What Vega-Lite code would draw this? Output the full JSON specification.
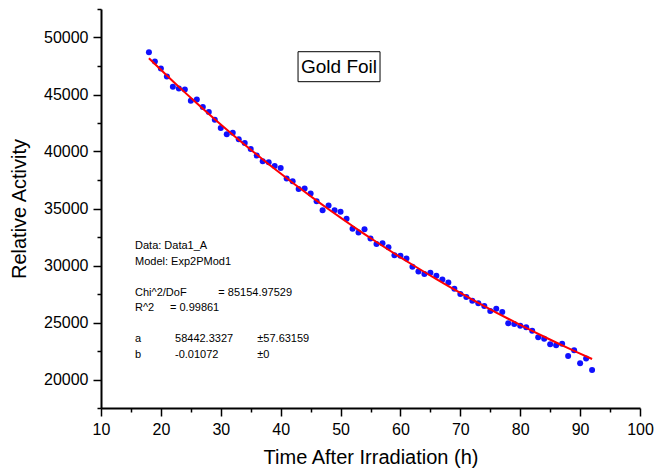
{
  "$schema": "https://vega.github.io/schema/vega-lite/v6.json",
  "width": 539,
  "height": 399,
  "padding": {"left": 101, "top": 9, "right": 28, "bottom": 63},
  "autosize": {"type": "none"},
  "background": "white",
  "config": {"view": {"stroke": null}, "font": "Liberation Sans"},
  "datasets": {
    "points": [
      {"t": 18, "a": 48713}, {"t": 19, "a": 47898}, {"t": 20, "a": 47285}, {"t": 21, "a": 46585},
      {"t": 22, "a": 45683}, {"t": 23, "a": 45534}, {"t": 24, "a": 45446}, {"t": 25, "a": 44457},
      {"t": 26, "a": 44571}, {"t": 27, "a": 43897}, {"t": 28, "a": 43459}, {"t": 29, "a": 42793},
      {"t": 30, "a": 42058}, {"t": 31, "a": 41506}, {"t": 32, "a": 41652}, {"t": 33, "a": 41068},
      {"t": 34, "a": 40744}, {"t": 35, "a": 40219}, {"t": 36, "a": 39640}, {"t": 37, "a": 39140},
      {"t": 38, "a": 39054}, {"t": 39, "a": 38730}, {"t": 40, "a": 38555}, {"t": 41, "a": 37626},
      {"t": 42, "a": 37390}, {"t": 43, "a": 36716}, {"t": 44, "a": 36751}, {"t": 45, "a": 36313},
      {"t": 46, "a": 35639}, {"t": 47, "a": 34850}, {"t": 48, "a": 35262}, {"t": 49, "a": 34850},
      {"t": 50, "a": 34720}, {"t": 51, "a": 34090}, {"t": 52, "a": 33214}, {"t": 53, "a": 32900},
      {"t": 54, "a": 33187}, {"t": 55, "a": 32370}, {"t": 56, "a": 31890}, {"t": 57, "a": 31945},
      {"t": 58, "a": 31610}, {"t": 59, "a": 30910}, {"t": 60, "a": 30851}, {"t": 61, "a": 30618},
      {"t": 62, "a": 29888}, {"t": 63, "a": 29480}, {"t": 64, "a": 29246}, {"t": 65, "a": 29363},
      {"t": 66, "a": 29100}, {"t": 67, "a": 28781}, {"t": 68, "a": 28518}, {"t": 69, "a": 27962},
      {"t": 70, "a": 27494}, {"t": 71, "a": 27232}, {"t": 72, "a": 26912}, {"t": 73, "a": 26678},
      {"t": 74, "a": 26444}, {"t": 75, "a": 26006}, {"t": 76, "a": 26210}, {"t": 77, "a": 25919},
      {"t": 78, "a": 24927}, {"t": 79, "a": 24868}, {"t": 80, "a": 24722}, {"t": 81, "a": 24576},
      {"t": 82, "a": 24284}, {"t": 83, "a": 23700}, {"t": 84, "a": 23583}, {"t": 85, "a": 23087},
      {"t": 86, "a": 23000}, {"t": 87, "a": 23146}, {"t": 88, "a": 22065}, {"t": 89, "a": 22561},
      {"t": 90, "a": 21426}, {"t": 91, "a": 21834}, {"t": 92, "a": 20840}
    ],
    "fit": [
      {"t": 18, "a": 48187}, {"t": 20, "a": 47165}, {"t": 22, "a": 46165}, {"t": 24, "a": 45185},
      {"t": 26, "a": 44227}, {"t": 28, "a": 43289}, {"t": 30, "a": 42370}, {"t": 32, "a": 41472},
      {"t": 34, "a": 40592}, {"t": 36, "a": 39731}, {"t": 38, "a": 38888}, {"t": 40, "a": 38063},
      {"t": 42, "a": 37256}, {"t": 44, "a": 36466}, {"t": 46, "a": 35692}, {"t": 48, "a": 34935},
      {"t": 50, "a": 34194}, {"t": 52, "a": 33469}, {"t": 54, "a": 32759}, {"t": 56, "a": 32064},
      {"t": 58, "a": 31384}, {"t": 60, "a": 30718}, {"t": 62, "a": 30067}, {"t": 64, "a": 29429},
      {"t": 66, "a": 28805}, {"t": 68, "a": 28194}, {"t": 70, "a": 27596}, {"t": 72, "a": 27010},
      {"t": 74, "a": 26437}, {"t": 76, "a": 25876}, {"t": 78, "a": 25328}, {"t": 80, "a": 24790},
      {"t": 82, "a": 24264}, {"t": 84, "a": 23750}, {"t": 86, "a": 23246}, {"t": 88, "a": 22753},
      {"t": 90, "a": 22270}, {"t": 92, "a": 21798}
    ]
  },
  "layer": [
    {
      "data": {"name": "points"},
      "mark": {"type": "point", "shape": "circle", "filled": true, "size": 36, "color": "#1010ff", "opacity": 1},
      "encoding": {
        "x": {
          "field": "t", "type": "quantitative",
          "scale": {"domain": [10, 100], "nice": false, "zero": false},
          "axis": {
            "orient": "bottom", "values": [10, 20, 30, 40, 50, 60, 70, 80, 90, 100], "format": "d",
            "grid": false, "domainColor": "black", "domainWidth": 2, "tickColor": "black", "tickWidth": 1.5, "tickSize": 8,
            "labelFontSize": 16, "labelColor": "black", "labelFont": "Liberation Sans", "labelPadding": 5,
            "labelFlush": false, "labelOverlap": false,
            "title": "Time After Irradiation (h)", "titleFontSize": 20, "titleFontWeight": "normal", "titleColor": "black",
            "titleFont": "Liberation Sans", "titlePadding": 10
          }
        },
        "y": {
          "field": "a", "type": "quantitative",
          "scale": {"domain": [17500, 52500], "nice": false, "zero": false},
          "axis": {
            "orient": "left", "values": [20000, 25000, 30000, 35000, 40000, 45000, 50000], "format": "d",
            "grid": false, "domainColor": "black", "domainWidth": 2, "tickColor": "black", "tickWidth": 1.5, "tickSize": 8,
            "labelFontSize": 16, "labelColor": "black", "labelFont": "Liberation Sans", "labelPadding": 5,
            "labelFlush": false, "labelOverlap": false,
            "title": "Relative Activity", "titleFontSize": 20, "titleFontWeight": "normal", "titleColor": "black",
            "titleFont": "Liberation Sans", "titlePadding": 14
          }
        }
      }
    },
    {
      "data": {"name": "fit"},
      "mark": {"type": "line", "color": "#ff0000", "strokeWidth": 2},
      "encoding": {
        "x": {
          "field": "t", "type": "quantitative",
          "axis": {
            "orient": "bottom", "values": [15, 25, 35, 45, 55, 65, 75, 85, 95], "labels": false, "domain": false,
            "grid": false, "tickColor": "black", "tickWidth": 1.5, "tickSize": 4, "title": null
          }
        },
        "y": {
          "field": "a", "type": "quantitative",
          "axis": {
            "orient": "left", "values": [17500, 22500, 27500, 32500, 37500, 42500, 47500, 52500], "labels": false, "domain": false,
            "grid": false, "tickColor": "black", "tickWidth": 1.5, "tickSize": 4, "title": null
          }
        }
      }
    },
    {
      "data": {"values": [{}]},
      "mark": {"type": "rect", "fill": "white", "fillOpacity": 0, "stroke": "black", "strokeWidth": 1},
      "encoding": {
        "x": {"datum": 42.9, "type": "quantitative", "axis": null},
        "x2": {"datum": 56.59},
        "y": {"datum": 48754, "type": "quantitative", "axis": null},
        "y2": {"datum": 46123}
      }
    },
    {
      "data": {"values": [{}]},
      "mark": {"type": "text", "text": "Gold Foil", "align": "center", "baseline": "alphabetic", "fontSize": 19, "font": "Liberation Sans", "color": "black"},
      "encoding": {
        "x": {"datum": 49.74, "type": "quantitative", "axis": null},
        "y": {"datum": 46860, "type": "quantitative", "axis": null}
      }
    },
    {
      "data": {"values": [{}]},
      "mark": {"type": "text", "text": ["Data: Data1_A", "Model: Exp2PMod1"], "align": "left", "baseline": "alphabetic", "fontSize": 11, "lineHeight": 15.5, "font": "Liberation Sans", "color": "black"},
      "encoding": {
        "x": {"datum": 15.68, "type": "quantitative", "axis": null},
        "y": {"datum": 31447, "type": "quantitative", "axis": null}
      }
    },
    {
      "data": {"values": [{}]},
      "mark": {"type": "text", "text": ["Chi^2/DoF", "R^2"], "align": "left", "baseline": "alphabetic", "fontSize": 11, "lineHeight": 15.5, "font": "Liberation Sans", "color": "black"},
      "encoding": {
        "x": {"datum": 15.68, "type": "quantitative", "axis": null},
        "y": {"datum": 27368, "type": "quantitative", "axis": null}
      }
    },
    {
      "data": {"values": [{}]},
      "mark": {"type": "text", "text": ["a", "b"], "align": "left", "baseline": "alphabetic", "fontSize": 11, "lineHeight": 15.5, "font": "Liberation Sans", "color": "black"},
      "encoding": {
        "x": {"datum": 15.68, "type": "quantitative", "axis": null},
        "y": {"datum": 23289, "type": "quantitative", "axis": null}
      }
    },
    {
      "data": {"values": [{}]},
      "mark": {"type": "text", "text": "= 85154.97529", "align": "left", "baseline": "alphabetic", "fontSize": 11, "font": "Liberation Sans", "color": "black"},
      "encoding": {
        "x": {"datum": 29.59, "type": "quantitative", "axis": null},
        "y": {"datum": 27368, "type": "quantitative", "axis": null}
      }
    },
    {
      "data": {"values": [{}]},
      "mark": {"type": "text", "text": "=  0.99861", "align": "left", "baseline": "alphabetic", "fontSize": 11, "font": "Liberation Sans", "color": "black"},
      "encoding": {
        "x": {"datum": 21.52, "type": "quantitative", "axis": null},
        "y": {"datum": 26009, "type": "quantitative", "axis": null}
      }
    },
    {
      "data": {"values": [{}]},
      "mark": {"type": "text", "text": ["58442.3327", "-0.01072"], "align": "left", "baseline": "alphabetic", "fontSize": 11, "lineHeight": 15.5, "font": "Liberation Sans", "color": "black"},
      "encoding": {
        "x": {"datum": 22.36, "type": "quantitative", "axis": null},
        "y": {"datum": 23289, "type": "quantitative", "axis": null}
      }
    },
    {
      "data": {"values": [{}]},
      "mark": {"type": "text", "text": ["±57.63159", "±0"], "align": "left", "baseline": "alphabetic", "fontSize": 11, "lineHeight": 15.5, "font": "Liberation Sans", "color": "black"},
      "encoding": {
        "x": {"datum": 36.1, "type": "quantitative", "axis": null},
        "y": {"datum": 23289, "type": "quantitative", "axis": null}
      }
    }
  ],
  "resolve": {"axis": {"x": "independent", "y": "independent"}}
}
